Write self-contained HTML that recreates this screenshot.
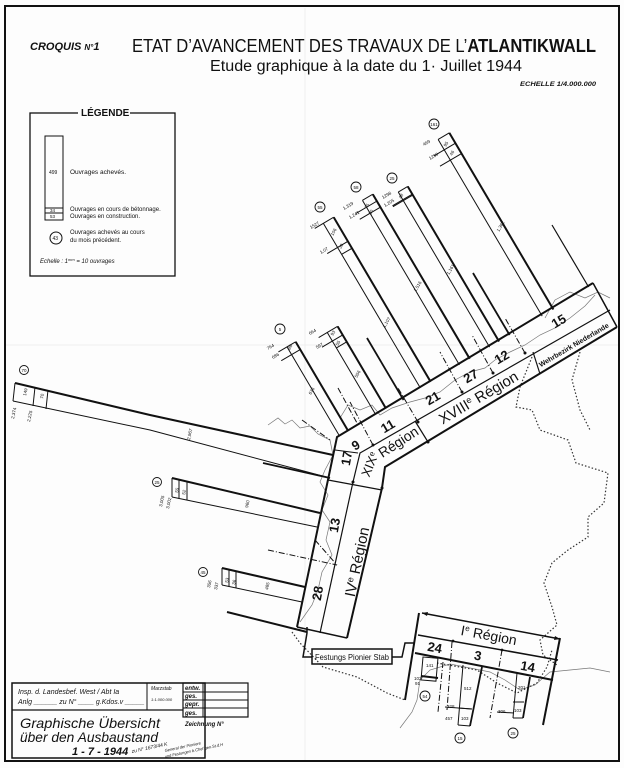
<!DOCTYPE html>
<html><head><meta charset="utf-8"><style>
html,body{margin:0;padding:0;background:#fff;}
svg{display:block;}
text{font-family:"Liberation Sans",sans-serif;fill:#111;}
</style></head><body>
<svg width="624" height="768" viewBox="0 0 624 768" xmlns="http://www.w3.org/2000/svg">
<rect x="0" y="0" width="624" height="768" fill="#fdfdfd"/>
<!-- frame -->
<rect x="5" y="6" width="614" height="755" fill="none" stroke="#111" stroke-width="2"/>
<line x1="305" y1="8" x2="305" y2="760" stroke="#eee" stroke-width="1"/>
<line x1="6" y1="345" x2="618" y2="345" stroke="#eee" stroke-width="1"/>

<!-- titles -->
<text x="30" y="50" font-size="11" font-style="italic" font-weight="bold">CROQUIS <tspan font-size="8">N°</tspan>1</text>
<text x="132" y="52" font-size="18" textLength="464" lengthAdjust="spacingAndGlyphs">ETAT D’AVANCEMENT DES TRAVAUX DE L’<tspan font-weight="bold">ATLANTIKWALL</tspan></text>
<text x="210" y="71" font-size="15.5" textLength="312" lengthAdjust="spacingAndGlyphs">Etude graphique à la date du 1· Juillet 1944</text>
<text x="520" y="86" font-size="6.5" font-style="italic" font-weight="bold" textLength="76" lengthAdjust="spacingAndGlyphs">ECHELLE   1/4.000.000</text>

<!-- legend -->
<rect x="30" y="113" width="145" height="163" fill="none" stroke="#111" stroke-width="1.3"/>
<rect x="78" y="106" width="52" height="12" fill="#fdfdfd"/>
<text x="81" y="116" font-size="10" font-weight="bold">LÉGENDE</text>
<rect x="45" y="136" width="18" height="84" fill="none" stroke="#111" stroke-width="1"/>
<line x1="45" y1="208" x2="63" y2="208" stroke="#111"/>
<line x1="45" y1="213" x2="63" y2="213" stroke="#111"/>
<text x="49" y="174" font-size="5">499</text>
<text x="50" y="212" font-size="4.5">34</text>
<text x="50" y="218" font-size="4.5">53</text>
<text x="70" y="174" font-size="6.5">Ouvrages achevés.</text>
<text x="70" y="211" font-size="6">Ouvrages en cours de bétonnage.</text>
<text x="70" y="218" font-size="6">Ouvrages en construction.</text>
<circle cx="56" cy="238" r="6" fill="none" stroke="#111"/>
<text x="52.5" y="240" font-size="5">43</text>
<text x="70" y="234" font-size="6">Ouvrages achevés au cours</text>
<text x="70" y="242" font-size="6">du mois précédent.</text>
<text x="40" y="263" font-size="6" font-style="italic">Echelle : 1<tspan font-size="4" dy="-2">mm</tspan><tspan dy="2"> = 10 ouvrages</tspan></text>

<!-- thin coast lines -->
<g fill="none" stroke="#777" stroke-width="0.7">
<path d="M268,425 L278,418 285,424 292,420 300,428 310,426 318,434 330,440 333,455 325,470 320,482 328,495 322,510 330,522 326,540 332,555 322,572 318,590 312,605 300,622"/>
<path d="M340,418 L348,405 360,410 372,405 380,415 392,408 410,402 425,398 440,392 455,380 470,372 485,368 495,360 510,352 525,345 540,335 555,328 570,318 585,306 595,295"/>
<path d="M545,318 L555,300 570,292 585,298 598,292 610,298"/>
<path d="M400,728 L412,712 417,700 420,680 430,670 450,664 470,668 490,672 505,680 520,690 535,685 550,672 570,670 590,668 610,672"/>
</g>

<!-- dotted borders -->
<g fill="none" stroke="#333" stroke-width="1.2" stroke-dasharray="1.5,2">
<path d="M532,357 L520,387 516,407 532,410 540,430 568,440 576,463 608,473 604,503 588,517 588,537 568,550 552,563 544,583 552,607 557,625 540,640 543,655 557,665"/>
<path d="M580,352 L572,380 580,410 590,430"/>
<path d="M292,632 L300,643 323,667 357,677 387,693 405,700"/>
<path d="M437,663 L477,670 497,683 517,693 537,683 547,667 552,650"/>
</g>

<!-- main band -->
<g fill="none" stroke="#111" stroke-linejoin="miter">
<path d="M593,283 L337,437 L297,627" stroke-width="2"/>
<path d="M610,310 L360,453 L353,482 L320,633" stroke-width="1.2"/>
<path d="M617,327 L385,467 L382,488 L347,638" stroke-width="2"/>
<line x1="593" y1="283" x2="617" y2="327" stroke-width="1.5"/>
<line x1="297" y1="627" x2="347" y2="638" stroke-width="1.5"/>
<line x1="328" y1="480" x2="382" y2="490" stroke-width="1.2"/>
<line x1="335" y1="450" x2="358" y2="453" stroke-width="1"/>
<line x1="415" y1="421" x2="428" y2="442" stroke-width="1.2"/>
<line x1="533" y1="352" x2="540" y2="374" stroke-width="1.2"/>
<line x1="315" y1="540" x2="337" y2="565" stroke-width="1" stroke-dasharray="6,2,1,2"/>
<g stroke-width="1" stroke-dasharray="6,2,1,2">
<line x1="373" y1="445" x2="350" y2="402"/>
<line x1="418" y1="422" x2="398" y2="388"/>
<line x1="462" y1="392" x2="440" y2="352"/>
<line x1="493" y1="373" x2="472" y2="335"/>
<line x1="525" y1="353" x2="505" y2="318"/>
</g>
</g>
<g fill="#111">
<circle cx="373" cy="445" r="1.5"/><circle cx="418" cy="422" r="1.5"/><circle cx="462" cy="392" r="1.5"/><circle cx="493" cy="373" r="1.5"/><circle cx="525" cy="353" r="1.5"/><circle cx="428" cy="442" r="1.5"/><circle cx="353" cy="482" r="1.5"/><circle cx="382" cy="488" r="1.5"/>
</g>

<!-- band labels -->
<g font-weight="bold" font-size="13">
<text transform="translate(358,449) rotate(-30.5)" text-anchor="middle">9</text>
<text transform="translate(390,430) rotate(-30.5)" text-anchor="middle">11</text>
<text transform="translate(435,402) rotate(-30.5)" text-anchor="middle">21</text>
<text transform="translate(473,380) rotate(-30.5)" text-anchor="middle">27</text>
<text transform="translate(504,361) rotate(-30.5)" text-anchor="middle">12</text>
<text transform="translate(561,325) rotate(-30.5)" text-anchor="middle">15</text>
<text transform="translate(351,459) rotate(-80)" text-anchor="middle">17</text>
<text transform="translate(339,526) rotate(-80)" text-anchor="middle">13</text>
<text transform="translate(322,594) rotate(-80)" text-anchor="middle">28</text>
</g>
<text transform="translate(362,563) rotate(-78)" text-anchor="middle" font-size="15">IV<tspan font-size="9" dy="-5">e</tspan><tspan dy="5"> Région</tspan></text>
<text transform="translate(481,402) rotate(-30.5)" text-anchor="middle" font-size="15">XVIII<tspan font-size="9" dy="-5">e</tspan><tspan dy="5"> Région</tspan></text>
<text transform="translate(374,466) rotate(-68)" text-anchor="middle" font-size="13">XIX<tspan font-size="8" dy="-4">e</tspan></text>
<text transform="translate(401,446) rotate(-33)" text-anchor="middle" font-size="14">Région</text>
<text transform="translate(575,347) rotate(-30.5)" text-anchor="middle" font-size="7" font-weight="bold">Wehrbezirk  Niederlande</text>

<!-- bars XVIII -->
<g fill="none" stroke="#111">
<!-- 161 -->
<g transform="translate(542.2,316.1) rotate(-30.5)">
<line x1="0" y1="-205" x2="0" y2="0" stroke-width="1"/>
<line x1="13" y1="-205" x2="13" y2="0" stroke-width="2"/>
<line x1="0" y1="-205" x2="13" y2="-205"/>
<line x1="-12" y1="-193" x2="13" y2="-193"/>
<line x1="-12" y1="-181" x2="13" y2="-181"/>
</g>
<!-- 25 -->
<g transform="translate(489.6,347.1) rotate(-30.5)">
<line x1="0" y1="-180" x2="0" y2="0" stroke-width="1"/>
<line x1="11" y1="-180" x2="11" y2="0" stroke-width="2"/>
<line x1="0" y1="-180" x2="11" y2="-180"/>
<line x1="-12" y1="-171" x2="11" y2="-171"/>
<line x1="-12" y1="-170" x2="11" y2="-170"/>
</g>
<!-- 58 -->
<g transform="translate(459.4,364.9) rotate(-30.5)">
<line x1="0" y1="-191" x2="0" y2="0" stroke-width="1"/>
<line x1="12" y1="-191" x2="12" y2="0" stroke-width="2"/>
<line x1="0" y1="-191" x2="12" y2="-191"/>
<line x1="-12" y1="-183" x2="12" y2="-183"/>
<line x1="-12" y1="-176" x2="12" y2="-176"/>
</g>
<!-- 55 -->
<g transform="translate(420.3,387.9) rotate(-30.5)">
<line x1="0" y1="-191" x2="0" y2="0" stroke-width="1"/>
<line x1="12" y1="-191" x2="12" y2="0" stroke-width="2"/>
<line x1="-10" y1="-191" x2="12" y2="-191"/>
<line x1="-12" y1="-163" x2="12" y2="-163"/>
<line x1="0" y1="-155" x2="12" y2="-155"/>
</g>
<!-- 664 -->
<g transform="translate(375.5,414.3) rotate(-30.5)">
<line x1="0" y1="-95" x2="0" y2="0" stroke-width="1"/>
<line x1="12" y1="-95" x2="12" y2="0" stroke-width="2"/>
<line x1="-10" y1="-95" x2="12" y2="-95"/>
<line x1="-12" y1="-85" x2="12" y2="-85"/>
<line x1="0" y1="-77" x2="12" y2="-77"/>
</g>
<!-- 5 -->
<g transform="translate(339.3,435.6) rotate(-30.5)">
<line x1="0" y1="-103" x2="0" y2="0" stroke-width="1"/>
<line x1="10" y1="-103" x2="10" y2="0" stroke-width="2"/>
<line x1="-10" y1="-103" x2="10" y2="-103"/>
<line x1="-12" y1="-94" x2="10" y2="-94"/>
</g>
<line x1="367" y1="338" x2="403.6" y2="400" stroke-width="1.8"/>
<line x1="473" y1="273" x2="509.6" y2="335" stroke-width="1.8"/>
<line x1="552" y1="225" x2="588.6" y2="287" stroke-width="1.2"/>
<line x1="338" y1="388" x2="357" y2="423" stroke-width="1" stroke-dasharray="6,2,1,2"/>
<line x1="302" y1="420" x2="330" y2="440" stroke-width="1" stroke-dasharray="6,2,1,2"/>
</g>
<!-- bar labels -->
<g font-size="4.5">
<text transform="translate(446,147) rotate(-59.5)">95</text>
<text transform="translate(452,156) rotate(-59.5)">46</text>
<text transform="translate(424,146) rotate(-30.5)">469</text>
<text transform="translate(430,160) rotate(-30.5)">1290</text>
<text transform="translate(499,232) rotate(-59.5)">1,362</text>
<text transform="translate(401,199) rotate(-59.5)">48</text>
<text transform="translate(383,199) rotate(-30.5)">1298</text>
<text transform="translate(385,207) rotate(-30.5)">1,205</text>
<text transform="translate(449,275) rotate(-59.5)">1,161</text>
<text transform="translate(367,209) rotate(-59.5)">75</text>
<text transform="translate(371,215) rotate(-59.5)">30</text>
<text transform="translate(344,210) rotate(-30.5)">1,319</text>
<text transform="translate(350,219) rotate(-30.5)">1,241</text>
<text transform="translate(416,292) rotate(-59.5)">1,516</text>
<text transform="translate(333,236) rotate(-59.5)">106</text>
<text transform="translate(341,249) rotate(-59.5)">30</text>
<text transform="translate(311,229) rotate(-30.5)">1527</text>
<text transform="translate(321,254) rotate(-30.5)">1,07</text>
<text transform="translate(385,328) rotate(-59.5)">1,107</text>
<text transform="translate(333,336) rotate(-59.5)">93</text>
<text transform="translate(338,346) rotate(-59.5)">55</text>
<text transform="translate(310,335) rotate(-30.5)">664</text>
<text transform="translate(317,349) rotate(-30.5)">597</text>
<text transform="translate(357,378) rotate(-59.5)">556</text>
<text transform="translate(290,350) rotate(-59.5)">86</text>
<text transform="translate(268,350) rotate(-30.5)">764</text>
<text transform="translate(273,359) rotate(-30.5)">686</text>
<text transform="translate(311,395) rotate(-59.5)">676</text>
</g>
<!-- circles -->
<g fill="none" stroke="#111" stroke-width="0.9">
<circle cx="434" cy="124" r="5"/><circle cx="392" cy="178" r="5"/><circle cx="356" cy="187" r="5"/><circle cx="320" cy="207" r="5"/><circle cx="280" cy="329" r="5"/>
<circle cx="24" cy="370" r="4.5"/><circle cx="157" cy="482" r="4.5"/><circle cx="203" cy="572" r="4.5"/>
<circle cx="425" cy="696" r="5"/><circle cx="460" cy="738" r="5"/><circle cx="513" cy="733" r="5"/>
</g>
<g font-size="4.5" text-anchor="middle">
<text x="434" y="126">161</text><text x="392" y="180">25</text><text x="356" y="189">58</text><text x="320" y="209">55</text><text x="280" y="331">5</text>
<text x="24" y="372">70</text><text x="157" y="484">25</text><text x="203" y="574">45</text>
<text x="425" y="698">54</text><text x="460" y="740">15</text><text x="513" y="735">25</text>
</g>

<!-- left bars -->
<g fill="none" stroke="#111">
<path d="M15,383 L150,415 L333,455" stroke-width="2"/>
<path d="M13,401 L150,430 L330,478" stroke-width="1"/>
<line x1="263" y1="463" x2="330" y2="478" stroke-width="1.8"/>
<line x1="15" y1="383" x2="13" y2="401"/>
<line x1="35" y1="387" x2="33" y2="406"/>
<line x1="48" y1="390" x2="46" y2="409"/>
<line x1="172" y1="478" x2="320" y2="513" stroke-width="2"/>
<line x1="172" y1="497" x2="317" y2="527"/>
<line x1="172" y1="478" x2="172" y2="497"/>
<line x1="179" y1="480" x2="179" y2="499"/>
<line x1="187" y1="482" x2="187" y2="500"/>
<line x1="268" y1="550" x2="337" y2="565" stroke-dasharray="6,2,1,2"/>
<line x1="222" y1="568" x2="305" y2="587" stroke-width="2"/>
<line x1="222" y1="585" x2="302" y2="602"/>
<line x1="222" y1="568" x2="222" y2="585"/>
<line x1="229" y1="570" x2="229" y2="587"/>
<line x1="236" y1="571" x2="236" y2="588"/>
<line x1="227" y1="612" x2="307" y2="632" stroke-width="2"/>
</g>
<g font-size="4.5">
<text transform="translate(26,396) rotate(-78)">149</text>
<text transform="translate(43,399) rotate(-78)">70</text>
<text transform="translate(14,419) rotate(-78)">2,374</text>
<text transform="translate(30,422) rotate(-78)">2,225</text>
<text transform="translate(190,440) rotate(-78)">2,967</text>
<text transform="translate(178,493) rotate(-78)">55</text>
<text transform="translate(185,495) rotate(-78)">52</text>
<text transform="translate(162,507) rotate(-78)">3,005</text>
<text transform="translate(169,509) rotate(-78)">3,002</text>
<text transform="translate(248,508) rotate(-78)">960</text>
<text transform="translate(228,583) rotate(-78)">53</text>
<text transform="translate(235,585) rotate(-78)">36</text>
<text transform="translate(210,588) rotate(-78)">356</text>
<text transform="translate(217,590) rotate(-78)">337</text>
<text transform="translate(268,590) rotate(-78)">485</text>
</g>

<!-- I Région block -->
<g fill="none" stroke="#111">
<line x1="422" y1="613" x2="560" y2="639" stroke-width="1.5"/>
<line x1="419" y1="613" x2="405" y2="700" stroke-width="2"/>
<line x1="418" y1="635" x2="558" y2="660" stroke-width="1.5"/>
<line x1="415" y1="653" x2="553" y2="680" stroke-width="2"/>
<line x1="560" y1="638" x2="543" y2="725" stroke-width="2"/>
<line x1="452" y1="642" x2="447" y2="710" stroke-dasharray="6,2,1,2"/>
<line x1="502" y1="650" x2="490" y2="718" stroke-dasharray="6,2,1,2"/>
<line x1="443" y1="662" x2="438" y2="712" stroke-dasharray="6,2,1,2"/>
<rect x="423" y="657" width="15" height="23" transform="rotate(5 423 657)"/>
<line x1="421" y1="676" x2="438" y2="678" stroke-width="2"/>
<line x1="463" y1="665" x2="458" y2="725"/>
<line x1="482" y1="667" x2="470" y2="726" stroke-width="1.8"/>
<line x1="458" y1="708" x2="472" y2="709"/>
<line x1="458" y1="725" x2="470" y2="726"/>
<line x1="517" y1="673" x2="513" y2="718"/>
<line x1="530" y1="677" x2="523" y2="718" stroke-width="1.8"/>
<line x1="513" y1="702" x2="524" y2="702"/>
<line x1="513" y1="718" x2="523" y2="718"/>
<line x1="445" y1="707" x2="472" y2="709"/>
<line x1="497" y1="712" x2="514" y2="713"/>
<!-- festungs box & connectors -->
<rect x="312" y="649" width="80" height="15" stroke-width="1.5"/>
<polyline points="392,657 402,657 405,643 415,643" stroke-width="1.5"/>
<polyline points="312,657 303,657 307,633 307,627" stroke-width="1.5"/>
</g>
<g fill="#111">
<path d="M422,613 l6,-1 -1,4z"/><path d="M560,639 l-6,1 1,-4z"/>
<circle cx="453" cy="641" r="1.4"/><circle cx="502" cy="650" r="1.4"/><circle cx="556" cy="660" r="1.4"/>
</g>
<text x="315" y="660" font-size="8" textLength="74" lengthAdjust="spacingAndGlyphs">Festungs Pionier Stab</text>
<text transform="translate(488,640) rotate(10.5)" text-anchor="middle" font-size="14">I<tspan font-size="8" dy="-5">e</tspan><tspan dy="5"> Région</tspan></text>
<g font-weight="bold" font-size="13" text-anchor="middle">
<text transform="translate(434,652) rotate(10.5)">24</text>
<text transform="translate(477,660) rotate(10.5)">3</text>
<text transform="translate(527,671) rotate(10.5)">14</text>
</g>
<g font-size="4.5">
<text x="426" y="667">141</text><text x="414" y="680">102</text><text x="415" y="685">91</text>
<text x="464" y="690">512</text><text x="447" y="708">328</text><text x="445" y="720">457</text><text x="461" y="720">103</text>
<text x="518" y="689">201</text><text x="498" y="713">306</text><text x="514" y="712">103</text>
</g>

<!-- title block -->
<g fill="none" stroke="#111">
<rect x="12" y="683" width="193" height="75" stroke-width="1.5"/>
<line x1="12" y1="710" x2="183" y2="710" stroke-width="1.2"/>
<line x1="147" y1="683" x2="147" y2="710"/>
<rect x="183" y="683" width="65" height="34" stroke-width="1.2"/>
<line x1="203" y1="683" x2="203" y2="717"/>
<line x1="183" y1="692" x2="248" y2="692"/>
<line x1="183" y1="700" x2="248" y2="700"/>
<line x1="183" y1="708" x2="248" y2="708"/>
</g>
<g font-style="italic">
<text x="18" y="694" font-size="7">Insp. d. Landesbef. West / Abt  Ia</text>
<text x="18" y="704" font-size="7">Anlg ______ zu N° ____ g.Kdos.v _____</text>
<text x="151" y="690" font-size="5">Marzstab</text>
<text x="151" y="701" font-size="4">1:1.000.000</text>
<text x="185" y="690" font-size="6" font-weight="bold">entw.</text>
<text x="185" y="698" font-size="6" font-weight="bold">ges.</text>
<text x="185" y="706" font-size="6" font-weight="bold">gepr.</text>
<text x="185" y="715" font-size="6" font-weight="bold">ges.</text>
<text x="185" y="726" font-size="6" font-weight="bold">Zeichnung N°</text>
<text x="20" y="728" font-size="14" textLength="140" lengthAdjust="spacingAndGlyphs">Graphische  Übersicht</text>
<text x="20" y="742" font-size="14" textLength="138" lengthAdjust="spacingAndGlyphs">über den Ausbaustand</text>
<text x="72" y="755" font-size="11" font-weight="bold">1 - 7 - 1944</text>
<text x="132" y="753" font-size="5" transform="rotate(-12 132 753)">zu N° 1673/44 K</text>
<text x="165" y="752" font-size="4" transform="rotate(-12 165 752)">General der Pioniere</text>
<text x="165" y="758" font-size="4" transform="rotate(-12 165 758)">und Festungen b.Chef gen.St.d.H</text>
</g>
</svg>
</body></html>
